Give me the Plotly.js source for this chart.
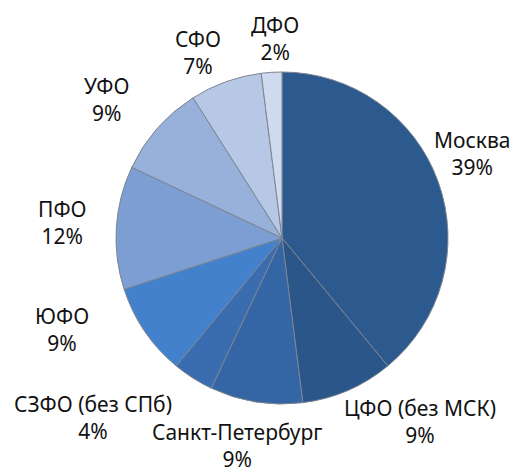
<!DOCTYPE html>
<html><head><meta charset="utf-8">
<script src="https://cdn.plot.ly/plotly-3.0.1.min.js"></script>
<style>html,body{margin:0;padding:0;background:#fff}#chart{width:514px;height:473px}</style>
</head><body><div id="chart"></div>
<script>
// data
const regions = ["Москва","ЦФО (без МСК)","Санкт-Петербург","СЗФО (без СПб)","ЮФО","ПФО","УФО","СФО","ДФО"];
const shares = [39,9,9,4,9,12,9,7,2];
// style / layout
const colors = ["#2c5a8f","#2a5689","#3466a5","#3a6daf","#4381cc","#7d9ed2","#98b1da","#b7c8e6","#cfdaee"];
const W = 514, H = 473;
// label box centres in pixels (text placement only)
const labelPx = [[472,153],[420,421],[237,445],[93,417],[62,329],[62,222],[106,100],[198,52],[275,38]];

const total = shares.reduce((a,b)=>a+b,0);
const annotations = regions.map((r,i)=>({
  xref:'paper', yref:'paper', x:labelPx[i][0]/W, y:1-labelPx[i][1]/H,
  xanchor:'center', yanchor:'middle', align:'center', showarrow:false,
  text: r + '<br>' + Math.round(shares[i]/total*100) + '%',
  font:{family:'Noto Sans, sans-serif', size:21, color:'#111'}
}));

Plotly.newPlot('chart',[{
  type:'pie', labels:regions, values:shares, sort:false, direction:'clockwise', rotation:0,
  marker:{colors:colors, line:{color:'#7d8490', width:1}},
  textinfo:'none',
  domain:{x:[116/W,448/W], y:[1-404/H,1-72/H]},
  hoverinfo:'none', showlegend:false
}],{
  width:W, height:H, margin:{l:0,r:0,t:0,b:0}, showlegend:false,
  paper_bgcolor:'#fff', plot_bgcolor:'#fff', annotations:annotations
},{displayModeBar:false, staticPlot:true});
</script></body></html>
